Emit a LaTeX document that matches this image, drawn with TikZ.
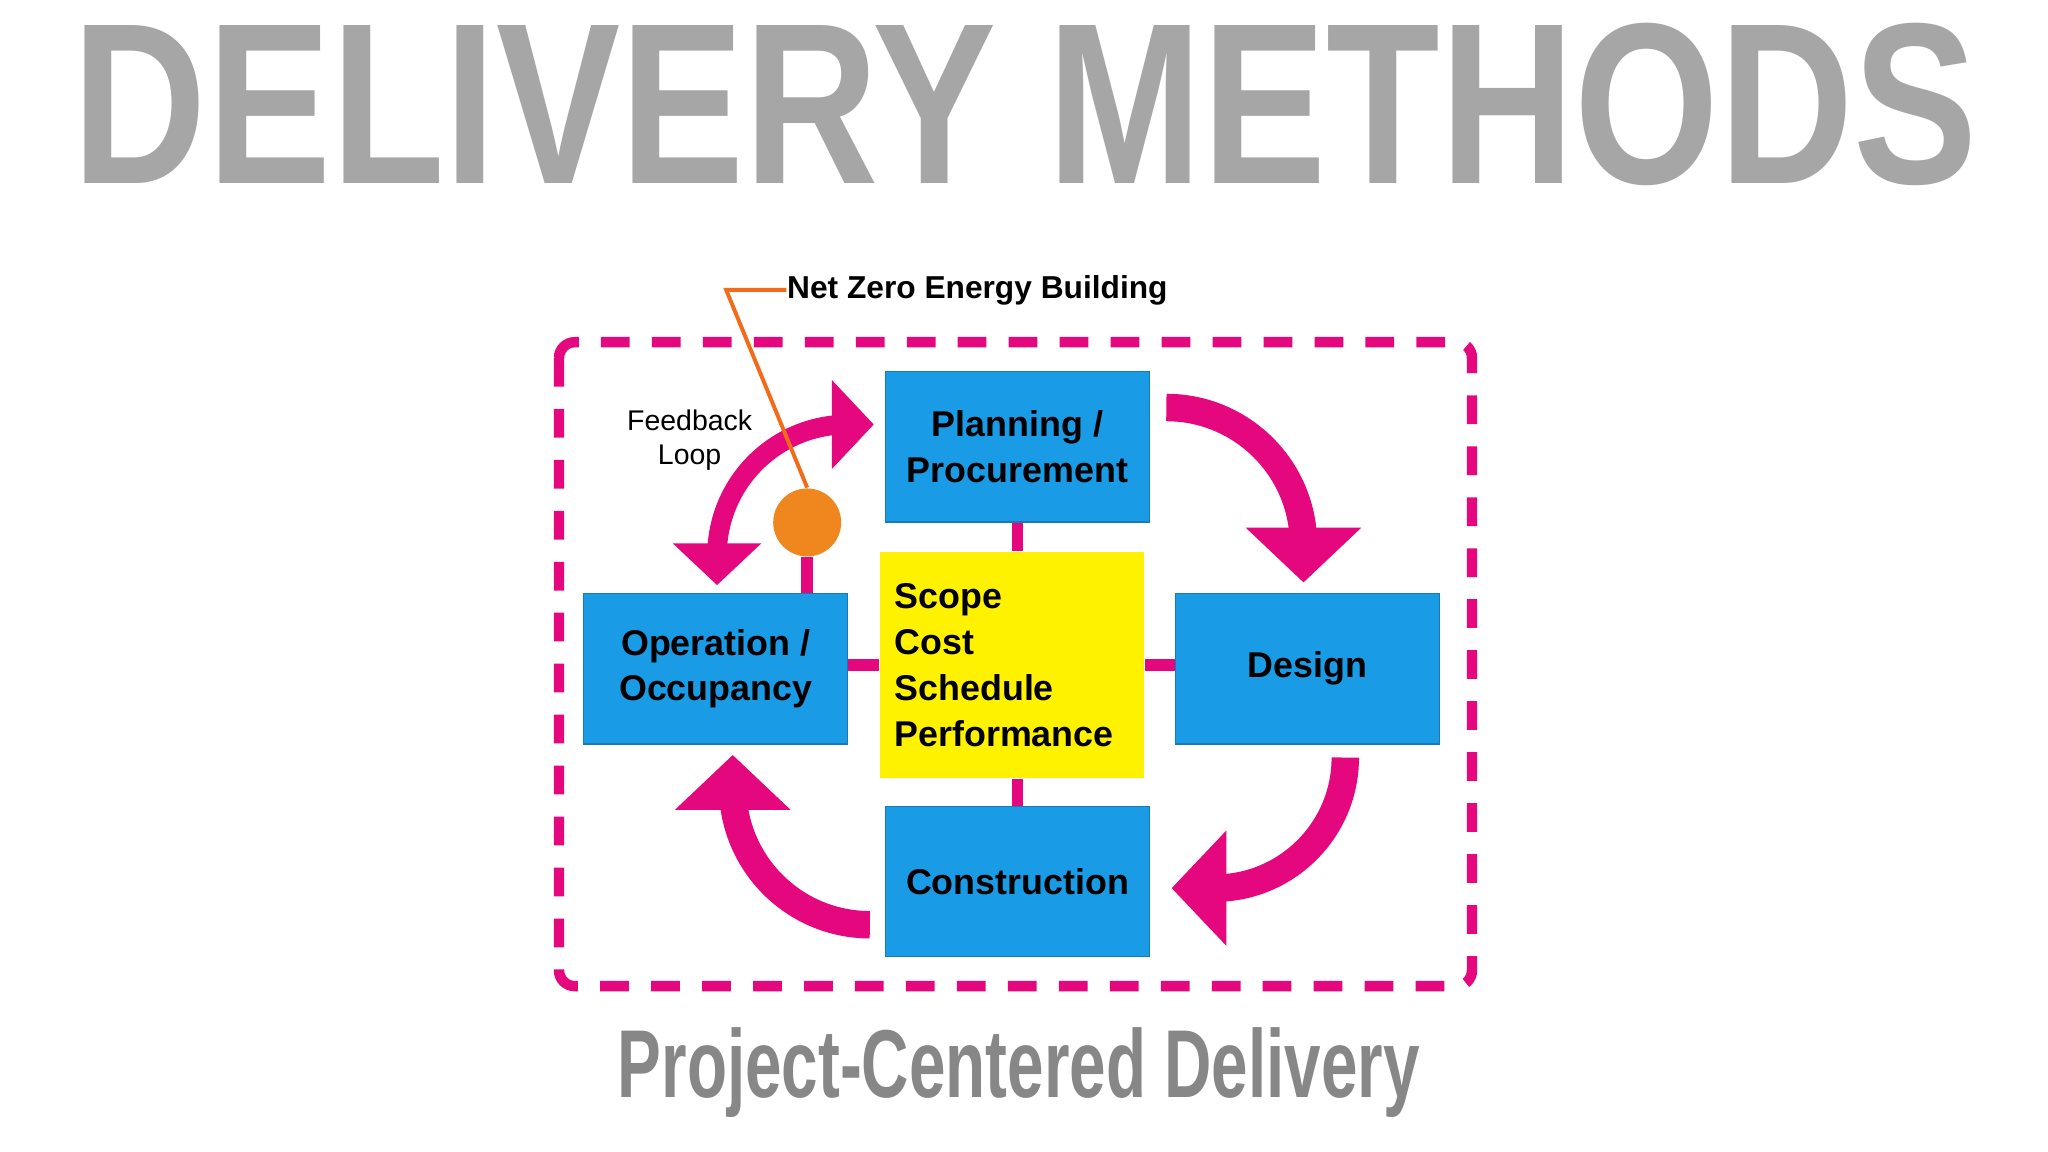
\documentclass[tikz,border=0pt]{standalone}
\usepackage{fontspec}
\setmainfont{Liberation Sans}
\usetikzlibrary{arrows.meta}
\definecolor{mag}{HTML}{E5077E}
\definecolor{bl}{HTML}{1A9BE6}
\definecolor{yl}{HTML}{FFF200}
\definecolor{org}{HTML}{F0861E}
\tikzset{
 box/.style={fill=bl,draw=bl!80!black,line width=0.3pt,minimum width=2.02cm,minimum height=1.15cm,inner sep=0pt,align=center,font=\fontsize{7.8}{10}\selectfont\bfseries},
 link/.style={mag,line width=0.09cm},
 bigarr/.style={mag,line width=0.21cm,-{Triangle[width=0.86cm,length=0.42cm]}},
}
\begin{document}
\begin{tikzpicture}[x=0.01cm,y=-0.01cm]
\useasboundingbox (0,0) rectangle (1568,882);
\fill[white] (0,0) rectangle (1568,882);
\node[text=black!35,font=\fontsize{50}{50}\selectfont\bfseries,xscale=0.81] (title) at (785,80) {DELIVERY METHODS};
\draw[mag,line width=0.08cm,dash pattern=on 0.22cm off 0.17cm,rounded corners=0.12cm] (428,262) rectangle (1127,755);
\node[box] (plan) at (779,342) {Planning /\\Procurement};
\node[box] (des) at (1001,512) {Design};
\node[box] (con) at (779,675) {Construction};
\node[box] (op) at (548,512) {Operation /\\Occupancy};
\node[fill=yl,minimum width=2.02cm,minimum height=1.73cm,align=left,inner sep=0pt,text width=1.8cm,font=\fontsize{7.8}{10}\selectfont\bfseries] (core) at (775,509) {Scope\\Cost\\Schedule\\Performance};
\draw[link] (plan.south) -- (plan.south |- core.north);
\draw[link] (con.north) -- (con.north |- core.south);
\draw[link] (core.west) -- (op.east |- core.west);
\draw[link] (core.east) -- (des.west |- core.east);
\node[circle,fill=org,minimum size=0.52cm,inner sep=0pt] (dot) at (618,400) {};
\draw[link] (dot.south) -- (dot.south |- op.north);
% arrows
\draw[bigarr] (893,312) arc[start angle=-90,end angle=0,radius=105] -- (998,446);
\draw[bigarr] (1030,580) arc[start angle=0,end angle=90,radius=100] -- (897,680);
\draw[bigarr] (666,708) arc[start angle=90,end angle=180,radius=105] -- (561,578);
\draw[mag,line width=0.15cm,{Triangle[width=0.66cm,length=0.32cm]}-{Triangle[width=0.66cm,length=0.32cm]}] (549,448) -- (549,425) arc[start angle=180,end angle=270,radius=100] -- (669,325);
\node[font=\fontsize{6.2}{7.6}\selectfont,align=center] (fb) at (528,337) {Feedback\\Loop};
\node[font=\fontsize{6.9}{8}\selectfont\bfseries,anchor=west,inner sep=0pt] (nz) at (602,222) {Net Zero Energy Building};
\coordinate (bend) at (556,222);
\draw[org!80!red,line width=0.03cm] (dot.north) -- (bend) -- (nz.west);
\node[text=black!47,font=\fontsize{21}{21}\selectfont\bfseries,xscale=0.68] (sub) at (780,821) {Project-Centered Delivery};
\end{tikzpicture}
\end{document}
